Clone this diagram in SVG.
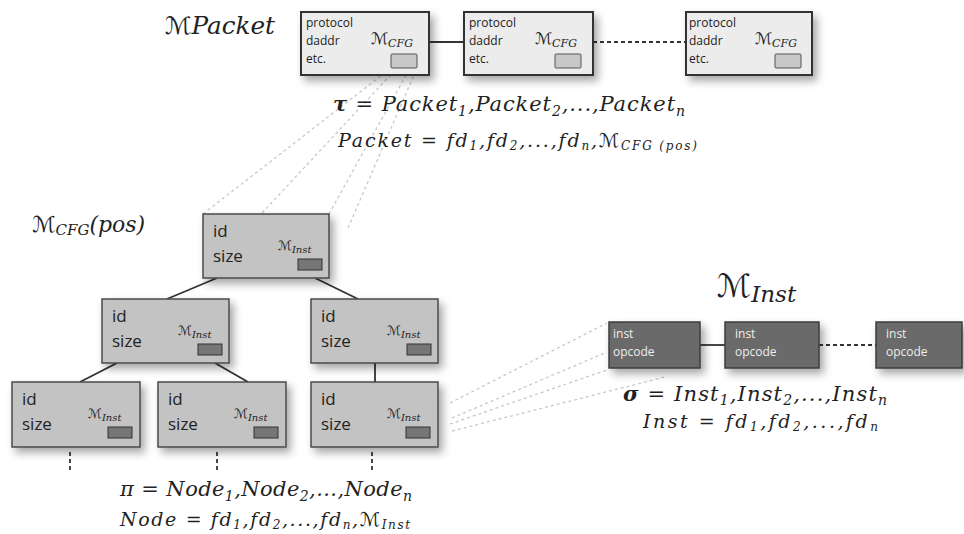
<svg xmlns="http://www.w3.org/2000/svg" width="964" height="534" viewBox="0 0 964 534">
  <defs>
    <filter id="shadow" x="-20%" y="-20%" width="150%" height="160%">
      <feDropShadow dx="4" dy="5" stdDeviation="4" flood-color="#000" flood-opacity="0.35"/>
    </filter>
  </defs>
  <style>
    .pkt { fill: #ececec; stroke: #333; stroke-width: 2; }
    .cfg { fill: #c3c3c3; stroke: #4a4a4a; stroke-width: 1.5; }
    .ins { fill: #6a6a6a; stroke: #3c3c3c; stroke-width: 1.5; }
    .pslot { fill: #c8c8c8; stroke: #555; stroke-width: 1; }
    .cslot { fill: #767676; stroke: #333; stroke-width: 1; }
    .sans { font-family: "Open Sans", "Noto Sans", sans-serif; }
    .ptxt { font-size: 12px; fill: #222; }
    .ctxt { font-size: 17px; fill: #222; }
    .itxt { font-size: 12px; fill: #eee; }
    .math { font-family: "DejaVu Serif", "Liberation Serif", serif; font-style: italic; fill: #222; }
    .cal { font-family: "DejaVu Sans", serif; font-style: normal; }
    .edge { stroke: #333; stroke-width: 1.8; fill: none; }
    .dash { stroke: #333; stroke-width: 1.8; fill: none; stroke-dasharray: 4 3; }
    .zoom { stroke: #c8c8c8; stroke-width: 1.3; fill: none; stroke-dasharray: 3 3; }
  </style>
  <rect width="964" height="534" fill="#fff"/>

  <!-- projection lines (packet slot -> CFG root, CFG slot -> instruction list) -->
  <g id="zoom-lines">
    <line class="zoom" x1="203" y1="214" x2="391" y2="68"/>
    <line class="zoom" x1="262" y1="213" x2="397" y2="68"/>
    <line class="zoom" x1="329" y1="214" x2="410" y2="68"/>
    <line class="zoom" x1="348" y1="228" x2="417" y2="68"/>
    <line class="zoom" x1="450" y1="403" x2="607" y2="323"/>
    <line class="zoom" x1="452" y1="418" x2="607" y2="352"/>
    <line class="zoom" x1="450" y1="424" x2="607" y2="370"/>
    <line class="zoom" x1="452" y1="431" x2="665" y2="377"/>
  </g>

  <!-- connectors -->
  <g id="connectors">
    <line class="edge" x1="429" y1="42" x2="464" y2="42"/>
    <line class="dash" x1="593" y1="42" x2="686" y2="42"/>
    <line class="edge" x1="217" y1="278" x2="167" y2="299"/>
    <line class="edge" x1="315" y1="278" x2="358" y2="299"/>
    <line class="edge" x1="117" y1="363" x2="80" y2="382"/>
    <line class="edge" x1="215" y1="363" x2="248" y2="382"/>
    <line class="edge" x1="375" y1="363" x2="375" y2="382"/>
    <line class="dash" x1="70" y1="452" x2="70" y2="473"/>
    <line class="dash" x1="217" y1="452" x2="217" y2="473"/>
    <line class="dash" x1="372" y1="452" x2="372" y2="473"/>
    <line class="edge" x1="700" y1="345" x2="725" y2="345"/>
    <line class="dash" x1="819" y1="345" x2="876" y2="345"/>
  </g>

  <!-- packet list -->
  <text class="math" x="165" y="34" font-size="24" textLength="110" lengthAdjust="spacingAndGlyphs"><tspan class="cal">ℳ</tspan>Packet</text>

  <g id="packet1" transform="translate(301,12)">
    <rect class="pkt" width="128" height="63" filter="url(#shadow)"/>
    <text class="sans ptxt" x="5" y="15">protocol</text>
    <text class="sans ptxt" x="5" y="33">daddr</text>
    <text class="sans ptxt" x="5" y="51">etc.</text>
    <text class="math" x="70" y="32" font-size="16"><tspan class="cal">ℳ</tspan><tspan font-size="11" dy="3">CFG</tspan></text>
    <rect class="pslot" x="90" y="42" width="26" height="14" rx="1"/>
  </g>
  <g id="packet2" transform="translate(464,12)">
    <rect class="pkt" width="129" height="63" filter="url(#shadow)"/>
    <text class="sans ptxt" x="5" y="15">protocol</text>
    <text class="sans ptxt" x="5" y="33">daddr</text>
    <text class="sans ptxt" x="5" y="51">etc.</text>
    <text class="math" x="71" y="32" font-size="16"><tspan class="cal">ℳ</tspan><tspan font-size="11" dy="3">CFG</tspan></text>
    <rect class="pslot" x="91" y="42" width="26" height="14" rx="1"/>
  </g>
  <g id="packet3" transform="translate(686,12)">
    <rect class="pkt" width="126" height="63" filter="url(#shadow)"/>
    <text class="sans ptxt" x="3" y="15">protocol</text>
    <text class="sans ptxt" x="3" y="33">daddr</text>
    <text class="sans ptxt" x="3" y="51">etc.</text>
    <text class="math" x="69" y="32" font-size="16"><tspan class="cal">ℳ</tspan><tspan font-size="11" dy="3">CFG</tspan></text>
    <rect class="pslot" x="89" y="42" width="26" height="14" rx="1"/>
  </g>

  <text class="math" x="333" y="111" font-size="21" textLength="352" lengthAdjust="spacing"><tspan font-weight="bold">τ</tspan> = Packet<tspan font-size="14" dy="5">1</tspan><tspan dy="-5">,Packet</tspan><tspan font-size="14" dy="5">2</tspan><tspan dy="-5">,...,Packet</tspan><tspan font-size="14" dy="5">n</tspan></text>
  <text class="math" x="338" y="147" font-size="19" fill="#444" textLength="359" lengthAdjust="spacing">Packet = fd<tspan font-size="12" dy="3">1</tspan><tspan dy="-3">,fd</tspan><tspan font-size="12" dy="3">2</tspan><tspan dy="-3">,...,fd</tspan><tspan font-size="12" dy="3">n</tspan><tspan dy="-3">,</tspan><tspan class="cal">ℳ</tspan><tspan font-size="12" dy="3">CFG (pos)</tspan></text>

  <!-- control-flow graph -->
  <text class="math" x="32" y="232" font-size="22"><tspan class="cal">ℳ</tspan><tspan font-size="15" dy="3">CFG</tspan><tspan dy="-3">(pos)</tspan></text>

  <g id="cfg-root" transform="translate(203,214)">
    <rect class="cfg" width="126" height="64" filter="url(#shadow)"/>
    <text class="sans ctxt" x="10" y="23">id</text>
    <text class="sans ctxt" x="10" y="48">size</text>
    <text class="math" x="75" y="36" font-size="13"><tspan class="cal">ℳ</tspan><tspan font-size="10" dy="3">Inst</tspan></text>
    <rect class="cslot" x="95" y="45" width="24" height="11"/>
  </g>
  <g id="cfg-l" transform="translate(102,299)">
    <rect class="cfg" width="127" height="64" filter="url(#shadow)"/>
    <text class="sans ctxt" x="10" y="23">id</text>
    <text class="sans ctxt" x="10" y="48">size</text>
    <text class="math" x="76" y="36" font-size="13"><tspan class="cal">ℳ</tspan><tspan font-size="10" dy="3">Inst</tspan></text>
    <rect class="cslot" x="96" y="45" width="24" height="11"/>
  </g>
  <g id="cfg-r" transform="translate(311,299)">
    <rect class="cfg" width="127" height="64" filter="url(#shadow)"/>
    <text class="sans ctxt" x="10" y="23">id</text>
    <text class="sans ctxt" x="10" y="48">size</text>
    <text class="math" x="76" y="36" font-size="13"><tspan class="cal">ℳ</tspan><tspan font-size="10" dy="3">Inst</tspan></text>
    <rect class="cslot" x="96" y="45" width="24" height="11"/>
  </g>
  <g id="cfg-ll" transform="translate(12,382)">
    <rect class="cfg" width="128" height="65" filter="url(#shadow)"/>
    <text class="sans ctxt" x="10" y="23">id</text>
    <text class="sans ctxt" x="10" y="48">size</text>
    <text class="math" x="76" y="36" font-size="13"><tspan class="cal">ℳ</tspan><tspan font-size="10" dy="3">Inst</tspan></text>
    <rect class="cslot" x="96" y="45" width="24" height="11"/>
  </g>
  <g id="cfg-lr" transform="translate(158,382)">
    <rect class="cfg" width="128" height="65" filter="url(#shadow)"/>
    <text class="sans ctxt" x="10" y="23">id</text>
    <text class="sans ctxt" x="10" y="48">size</text>
    <text class="math" x="76" y="36" font-size="13"><tspan class="cal">ℳ</tspan><tspan font-size="10" dy="3">Inst</tspan></text>
    <rect class="cslot" x="96" y="45" width="24" height="11"/>
  </g>
  <g id="cfg-rr" transform="translate(311,382)">
    <rect class="cfg" width="127" height="65" filter="url(#shadow)"/>
    <text class="sans ctxt" x="10" y="23">id</text>
    <text class="sans ctxt" x="10" y="48">size</text>
    <text class="math" x="76" y="36" font-size="13"><tspan class="cal">ℳ</tspan><tspan font-size="10" dy="3">Inst</tspan></text>
    <rect class="cslot" x="95" y="45" width="24" height="11"/>
  </g>

  <text class="math" x="120" y="496" font-size="21" textLength="292" lengthAdjust="spacing">π = Node<tspan font-size="14" dy="5">1</tspan><tspan dy="-5">,Node</tspan><tspan font-size="14" dy="5">2</tspan><tspan dy="-5">,...,Node</tspan><tspan font-size="14" dy="5">n</tspan></text>
  <text class="math" x="120" y="526" font-size="19" fill="#444" textLength="290" lengthAdjust="spacing">Node = fd<tspan font-size="12" dy="3">1</tspan><tspan dy="-3">,fd</tspan><tspan font-size="12" dy="3">2</tspan><tspan dy="-3">,...,fd</tspan><tspan font-size="12" dy="3">n</tspan><tspan dy="-3">,</tspan><tspan class="cal">ℳ</tspan><tspan font-size="12" dy="3">Inst</tspan></text>

  <!-- instruction list -->
  <text class="math" x="717" y="297" font-size="32"><tspan class="cal">ℳ</tspan><tspan font-size="23" dy="5">Inst</tspan></text>

  <g id="inst1" transform="translate(609,322)">
    <rect class="ins" width="91" height="46" filter="url(#shadow)"/>
    <text class="sans itxt" x="4" y="16">inst</text>
    <text class="sans itxt" x="4" y="34">opcode</text>
  </g>
  <g id="inst2" transform="translate(725,322)">
    <rect class="ins" width="94" height="46" filter="url(#shadow)"/>
    <text class="sans itxt" x="10" y="16">inst</text>
    <text class="sans itxt" x="10" y="34">opcode</text>
  </g>
  <g id="inst3" transform="translate(876,322)">
    <rect class="ins" width="86" height="46" filter="url(#shadow)"/>
    <text class="sans itxt" x="10" y="16">inst</text>
    <text class="sans itxt" x="10" y="34">opcode</text>
  </g>

  <text class="math" x="623" y="401" font-size="21" textLength="264" lengthAdjust="spacing"><tspan font-weight="bold">σ</tspan> = Inst<tspan font-size="14" dy="4">1</tspan><tspan dy="-4">,Inst</tspan><tspan font-size="14" dy="4">2</tspan><tspan dy="-4">,...,Inst</tspan><tspan font-size="14" dy="4">n</tspan></text>
  <text class="math" x="643" y="428" font-size="19" fill="#333" textLength="235" lengthAdjust="spacing">Inst = fd<tspan font-size="12" dy="3">1</tspan><tspan dy="-3">,fd</tspan><tspan font-size="12" dy="3">2</tspan><tspan dy="-3">,...,fd</tspan><tspan font-size="12" dy="3">n</tspan></text>
</svg>
